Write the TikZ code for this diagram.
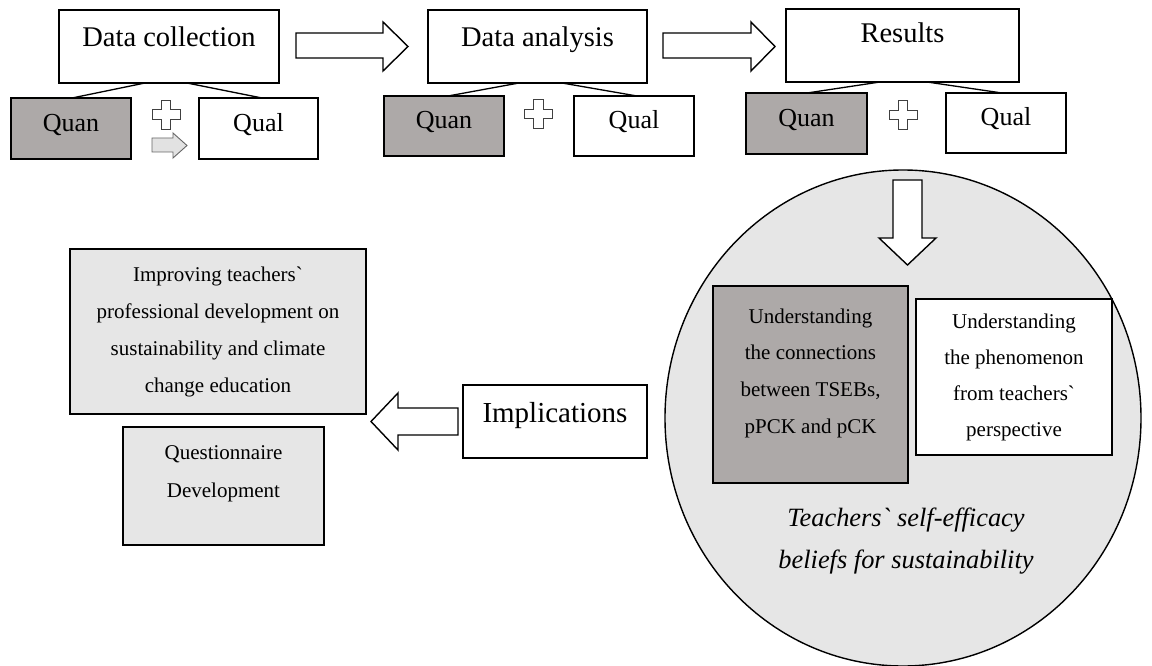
\documentclass[tikz,border=0pt]{standalone}
\usepackage{fontspec}
\setmainfont{Liberation Serif}[Ligatures=TeXOff]
\usetikzlibrary{calc,shapes.geometric}
\definecolor{darkbox}{HTML}{ADA9A8}
\definecolor{lightbox}{HTML}{E6E6E6}
\definecolor{arrowgray}{HTML}{E2E2E2}
\begin{document}
\begin{tikzpicture}[x=1pt,y=-1pt,
  box/.style={draw=black, line width=1.6pt, inner sep=0pt, outer sep=0pt},
  darkfill/.style={box, fill=darkbox},
  lightfill/.style={box, fill=lightbox},
  whitefill/.style={box, fill=white},
  txt/.style={inner sep=0pt, anchor=base, text=black},
  headtxt/.style={txt, font=\fontsize{28.5}{34}\selectfont},
  subtxt/.style={txt, font=\fontsize{26}{31}\selectfont},
  bodytxt/.style={txt, font=\fontsize{21}{25}\selectfont},
  itxt/.style={txt, font=\fontsize{26.4}{31}\selectfont\itshape},
  link/.style={draw=black, line width=1.3pt},
  blockarrow/.style={draw=black, line width=1.4pt, fill=white, line join=miter},
  smallarrow/.style={draw=black!60, line width=0.9pt, fill=arrowgray},
  plusst/.style={draw=black!75, line width=0.9pt, fill=white}
]
\useasboundingbox (0,0) rectangle (1152,666);
\fill[white] (0,0) rectangle (1152,666);

% circle
\node[draw=black, line width=1.4pt, fill=lightbox, ellipse, minimum width=476pt, minimum height=496pt, inner sep=0pt] (circ) at (903,418) {};

% top boxes
\node[whitefill, minimum width=220pt, minimum height=73pt] (dc) at (169,46.5) {};
\node[whitefill, minimum width=219pt, minimum height=73pt] (da) at (537.5,46.5) {};
\node[whitefill, minimum width=233pt, minimum height=73pt] (res) at (902.5,45.5) {};

\node[darkfill, minimum width=120pt, minimum height=61pt] (quan1) at (71,128.5) {};
\node[whitefill, minimum width=119pt, minimum height=61pt] (qual1) at (258.5,128.5) {};
\node[darkfill, minimum width=120pt, minimum height=60pt] (quan2) at (444,126) {};
\node[whitefill, minimum width=120pt, minimum height=60pt] (qual2) at (634,126) {};
\node[darkfill, minimum width=121pt, minimum height=61pt] (quan3) at (806.5,123.5) {};
\node[whitefill, minimum width=120pt, minimum height=60pt] (qual3) at (1006,123) {};

% lower boxes
\node[lightfill, minimum width=296pt, minimum height=165pt] (imp) at (218,331.5) {};
\node[lightfill, minimum width=201pt, minimum height=118pt] (quest) at (223.5,486) {};
\node[whitefill, minimum width=184pt, minimum height=73pt] (impl) at (555,421.5) {};
\node[darkfill, minimum width=195pt, minimum height=197pt] (conn) at (810.5,384.5) {};
\node[whitefill, minimum width=196pt, minimum height=156pt] (phen) at (1014,377) {};

% links
\draw[link] ($(dc.south)+(-24,0)$) -- ($(quan1.north)+(1,0)$);
\draw[link] ($(dc.south)+(18,0)$) -- ($(qual1.north)+(3.5,0)$);
\draw[link] ($(da.south)+(-18.5,0)$) -- ($(quan2.north)+(4,0)$);
\draw[link] ($(da.south)+(24.5,0)$) -- ($(qual2.north)+(3,0)$);
\draw[link] ($(res.south)+(-22.5,0)$) -- ($(quan3.north)+(0.5,0)$);
\draw[link] ($(res.south)+(24.5,0)$) -- ($(qual3.north)+(-4,0)$);

% block arrows
\draw[blockarrow] (296,33) -- (383,33) -- (383,22) -- (408,46.5) -- (383,71) -- (383,58) -- (296,58) -- cycle;
\draw[blockarrow] (663,33) -- (751,33) -- (751,22) -- (775,46.5) -- (751,71) -- (751,58) -- (663,58) -- cycle;
\draw[blockarrow] (893,180) -- (922,180) -- (922,238) -- (936,238) -- (907.5,265) -- (879,238) -- (893,238) -- cycle;
\draw[blockarrow] (458,408) -- (398,408) -- (398,393) -- (371,421.5) -- (398,450) -- (398,435) -- (458,435) -- cycle;
\draw[smallarrow] (152,138) -- (173,138) -- (173,133) -- (187,145.5) -- (173,158) -- (173,152) -- (152,152) -- cycle;

% plus signs
\foreach \cx/\cy in {166/114.5, 538.5/114, 903/115}{
  \draw[plusst, shift={(\cx,\cy)}] (-4.8,-14.5) -- (4.8,-14.5) -- (4.8,-4.8) -- (14,-4.8) -- (14,4.8) -- (4.8,4.8) -- (4.8,14.5) -- (-4.8,14.5) -- (-4.8,4.8) -- (-14,4.8) -- (-14,-4.8) -- (-4.8,-4.8) -- cycle;
}

% texts
\node[headtxt] (tdc) at (169,47) {Data collection};
\node[headtxt] (tda) at (537.5,47) {Data analysis};
\node[headtxt] (tres) at (902.5,43) {Results};
\node[subtxt] (tquan1) at (71,132) {Quan};
\node[subtxt] (tqual1) at (258.5,132) {Qual};
\node[subtxt] (tquan2) at (444,129) {Quan};
\node[subtxt] (tqual2) at (634,129) {Qual};
\node[subtxt] (tquan3) at (806.5,127) {Quan};
\node[subtxt] (tqual3) at (1006,126) {Qual};
\node[txt, font=\fontsize{29}{34}\selectfont] (timpl) at (555,422) {Implications};

\foreach \t [count=\i from 0] in {{Improving teachers`}, {professional development on}, {sustainability and climate}, {change education}}{
  \node[bodytxt] (timp\i) at (218,281+37*\i) {\t};
}
\foreach \t [count=\i from 0] in {{Questionnaire}, {Development}}{
  \node[bodytxt] (tquest\i) at (223.5,459+38*\i) {\t};
}
\foreach \t [count=\i from 0] in {{Understanding}, {the connections}, {between TSEBs,}, {pPCK and pCK}}{
  \node[bodytxt] (tconn\i) at (810.5,323+36.7*\i) {\t};
}
\foreach \t [count=\i from 0] in {{Understanding}, {the phenomenon}, {from teachers`}, {perspective}}{
  \node[bodytxt] (tphen\i) at (1014,328+36.3*\i) {\t};
}
\node[itxt] (tself1) at (906,526) {Teachers` self-efficacy};
\node[itxt] (tself2) at (906,568) {beliefs for sustainability};
\end{tikzpicture}
\end{document}
